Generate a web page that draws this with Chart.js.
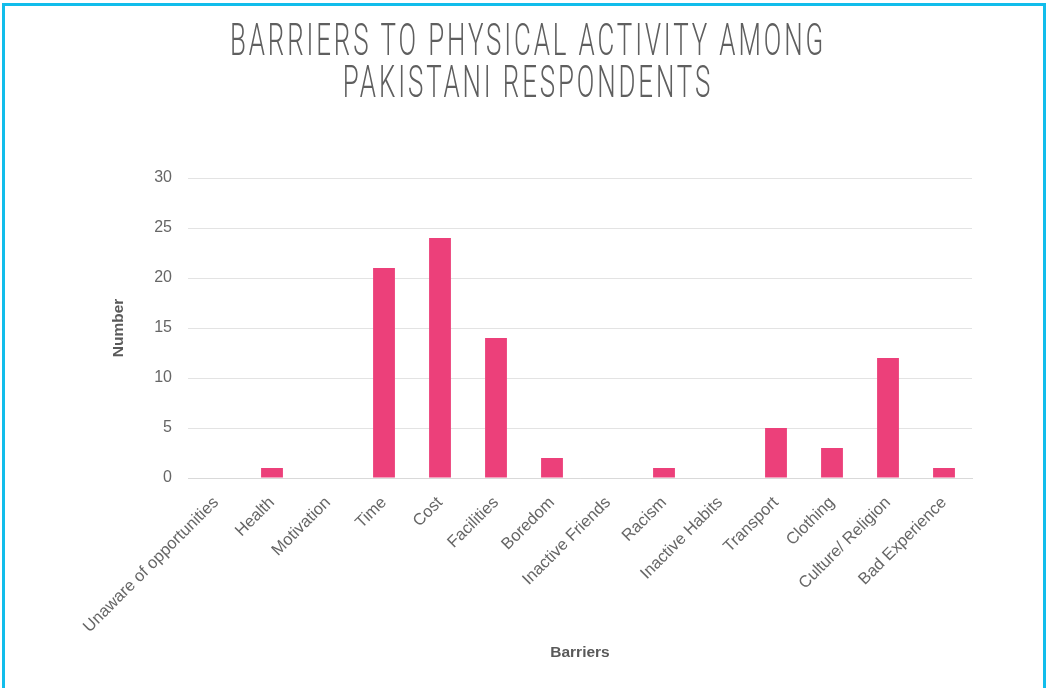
<!DOCTYPE html>
<html>
<head>
<meta charset="utf-8">
<script src="https://cdn.jsdelivr.net/npm/chart.js@4"></script>
<style>
  html, body { margin: 0; padding: 0; background: #fff; }
  #wrap { position: relative; width: 1046px; height: 688px; overflow: hidden; }
  #frame {
    position: absolute; left: 2px; top: 3px; width: 1038px; height: 720px;
    border: 3px solid #12BDEB; pointer-events: none;
  }
</style>
</head>
<body>
<div id="wrap">
  <canvas id="chart" width="1046" height="688"></canvas>
  <div id="frame"></div>
</div>
<script>
const titleLines = ["BARRIERS TO PHYSICAL ACTIVITY AMONG", "PAKISTANI RESPONDENTS"];
const categories = [
  "Unaware of opportunities", "Health", "Motivation", "Time", "Cost",
  "Facilities", "Boredom", "Inactive Friends", "Racism", "Inactive Habits",
  "Transport", "Clothing", "Culture/ Religion", "Bad Experience"
];
const counts = [0, 1, 0, 21, 24, 14, 2, 0, 1, 0, 5, 3, 12, 1];
const yTicks = [0, 5, 10, 15, 20, 25, 30];

const labelFont = "Liberation Sans, Arial, sans-serif";

// thin condensed title, squeezed horizontally to match the poster look
const posterTitle = {
  id: "posterTitle",
  afterDraw(chart) {
    const ctx = chart.ctx;
    ctx.save();
    ctx.font = '300 45px Roboto, "Open Sans", sans-serif';
    ctx.letterSpacing = "5px";
    ctx.fillStyle = "#5f5f5f";
    ctx.textAlign = "center";
    ctx.textBaseline = "alphabetic";
    const w = ctx.measureText(titleLines[0]).width;
    const sx = 596 / w;
    const baselines = [55, 97];
    titleLines.forEach((line, i) => {
      ctx.save();
      ctx.translate(528, baselines[i]);
      ctx.scale(sx, 1);
      ctx.fillText(line, 0, 0);
      ctx.restore();
    });
    ctx.restore();
  }
};

new Chart(document.getElementById("chart"), {
  type: "bar",
  data: {
    labels: categories,
    datasets: [{
      label: "Number",
      data: counts,
      backgroundColor: "#EC407A",
      borderWidth: 0,
      categoryPercentage: 1,
      barPercentage: 0.39,
    }],
  },
  options: {
    responsive: false,
    animation: false,
    layout: { padding: { top: 178, left: 105, right: 74, bottom: 22 } },
    plugins: {
      legend: { display: false },
      tooltip: { enabled: false },
      title: { display: false },
    },
    scales: {
      x: {
        afterFit: (s) => { s.height = 188; },
        grid: { display: false },
        border: { color: "#d9d9d9" },
        ticks: {
          color: "#666",
          font: { family: labelFont, size: 16.5 },
          minRotation: 45,
          maxRotation: 45,
          padding: 7,
          autoSkip: false,
        },
        title: {
          display: true,
          text: "Barriers",
          color: "#595959",
          font: { family: labelFont, size: 15.5, weight: "bold" },
        },
      },
      y: {
        min: 0,
        max: 30,
        afterFit: (s) => { s.width = 83; },
        afterBuildTicks: (s) => { s.ticks = yTicks.map(v => ({ value: v })); },
        grid: { color: "#e3e3e3", drawTicks: false },
        border: { display: false },
        ticks: {
          color: "#666",
          font: { family: labelFont, size: 16 },
          padding: 16,
        },
        title: {
          display: true,
          text: "Number",
          color: "#595959",
          font: { family: labelFont, size: 15.5, weight: "bold" },
        },
      },
    },
  },
  plugins: [posterTitle],
});
</script>
</body>
</html>
